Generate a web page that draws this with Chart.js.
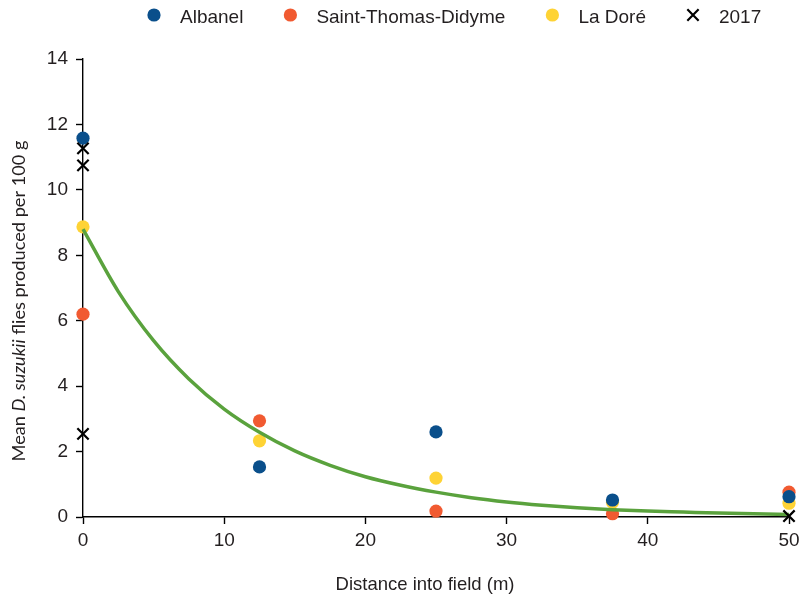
<!DOCTYPE html>
<html>
<head>
<meta charset="utf-8">
<script src="https://cdn.jsdelivr.net/npm/chart.js@4.4.1/dist/chart.umd.min.js"></script>
<style>
  html, body { margin: 0; padding: 0; background: #fff; }
</style>
</head>
<body>
<canvas id="myChart" width="800" height="599"></canvas>
<script>
// sampling distances (m)
const distances = [0, 12.5, 25, 37.5, 50];

// mean flies per 100 g, per site
const albanel = [11.58, 1.53, 2.6, 0.52, 0.62];
const saintThomas = [6.2, 2.94, 0.18, 0.1, 0.76];
const laDore = [8.87, 2.33, 1.19, 0.45, 0.42];

// 2017 points
const x2017 = [0, 0, 0, 50];
const y2017 = [11.27, 10.75, 2.54, 0.03];

// fitted curve
const curveX = [0, 2.5, 5, 7.5, 10, 12.5, 15, 17.5, 20, 22.5, 25, 27.5, 30, 32.5, 35, 37.5, 40, 42.5, 45, 47.5, 50];
const curveY = [8.8, 6.89, 5.39, 4.22, 3.3, 2.59, 2.02, 1.58, 1.23, 0.97, 0.76, 0.59, 0.46, 0.36, 0.28, 0.22, 0.18, 0.15, 0.12, 0.1, 0.08];

const xTicks = [0, 10, 20, 30, 40, 50];
const yTicks = [0, 2, 4, 6, 8, 10, 12, 14];

const BLUE = '#0a4f8b';
const RED = '#f15a31';
const YELLOW = '#fed335';
const GREEN = '#5aa23d';
const TEXT = '#231f20';
const ARIAL = '"Liberation Sans", Arial, sans-serif';

const pts = function (xs, ys) {
  return xs.map((x, i) => ({ x: x, y: ys[i] }));
};

const siteSet = function (label, values, color, order) {
  return {
    label: label,
    data: pts(distances, values),
    backgroundColor: color,
    borderColor: color,
    pointRadius: 6.6,
    pointBorderWidth: 0,
    pointHoverRadius: 6.6,
    clip: false,
    order: order,
  };
};

// draws the legend row and both axis titles
const extras = {
  id: 'extras',
  afterDraw(chart) {
    const ctx = chart.ctx;
    ctx.save();

    // legend
    ctx.font = '19px ' + ARIAL;
    ctx.textBaseline = 'alphabetic';
    ctx.textAlign = 'left';
    let x = 154;
    chart.data.datasets.slice(0, 4).forEach((ds) => {
      ctx.fillStyle = ds.backgroundColor;
      ctx.strokeStyle = ds.borderColor;
      ctx.lineWidth = ds.pointBorderWidth;
      Chart.helpers.drawPoint(ctx, {
        pointStyle: ds.pointStyle || 'circle',
        radius: ds.pointRadius,
        borderWidth: ds.pointBorderWidth,
        rotation: 0,
      }, x, 15);
      ctx.fillStyle = TEXT;
      ctx.fillText(ds.label, x + 26, 23);
      x += 26 + ctx.measureText(ds.label).width + 47;
    });

    // x title
    ctx.font = '18.5px ' + ARIAL;
    ctx.textAlign = 'center';
    ctx.fillStyle = TEXT;
    ctx.fillText('Distance into field (m)', 425, 590);

    // y title, with italic species name
    const parts = [
      ['Mean ', 'normal'],
      ['D. suzukii', 'italic'],
      [' flies produced per 100 g', 'normal'],
    ];
    const size = 18.2;
    let total = 0;
    parts.forEach((p) => {
      ctx.font = p[1] + ' ' + size + 'px Lato, "Noto Sans", sans-serif';
      total += ctx.measureText(p[0]).width;
    });
    ctx.translate(25, 301);
    ctx.rotate(-Math.PI / 2);
    ctx.textAlign = 'left';
    let cx = -total / 2;
    parts.forEach((p) => {
      ctx.font = p[1] + ' ' + size + 'px Lato, "Noto Sans", sans-serif';
      ctx.fillText(p[0], cx, 0);
      cx += ctx.measureText(p[0]).width;
    });

    ctx.restore();
  },
};

const axisOpts = function (min, max, step, ticks) {
  return {
    type: 'linear',
    min: min,
    max: max,
    afterBuildTicks(scale) {
      scale.ticks = ticks.map((v) => ({ value: v }));
    },
    ticks: {
      stepSize: step,
      color: TEXT,
      font: { family: ARIAL, size: 19 },
      padding: 8,
    },
    grid: {
      drawOnChartArea: false,
      drawTicks: true,
      tickLength: 7,
      tickColor: '#000',
      tickWidth: 1.4,
    },
    border: { color: '#000', width: 1.4 },
  };
};

const init = function () {
  const ctx = document.getElementById('myChart').getContext('2d');

  const xAxis = axisOpts(0, 50, 10, xTicks);
  xAxis.ticks.padding = 5;
  xAxis.afterFit = function (scale) {
    scale.height = 82;
    scale.paddingRight = 11;
  };
  const yAxis = axisOpts(0, 14, 2, yTicks);
  yAxis.afterFit = function (scale) { scale.width = 83; };

  new Chart(ctx, {
    type: 'scatter',
    data: {
      datasets: [
        siteSet('Albanel', albanel, BLUE, 2),
        siteSet('Saint-Thomas-Didyme', saintThomas, RED, 4),
        siteSet('La Doré', laDore, YELLOW, 3),
        {
          label: '2017',
          data: pts(x2017, y2017),
          pointStyle: 'crossRot',
          pointRadius: 8,
          pointHoverRadius: 8,
          pointBorderWidth: 2.2,
          borderColor: '#000',
          backgroundColor: '#000',
          clip: false,
          order: 0,
        },
        {
          label: 'fit',
          data: pts(curveX, curveY),
          showLine: true,
          borderColor: GREEN,
          backgroundColor: GREEN,
          borderWidth: 3.5,
          pointRadius: 0,
          pointHoverRadius: 0,
          cubicInterpolationMode: 'monotone',
          clip: false,
          order: 1,
        },
      ],
    },
    options: {
      responsive: false,
      animation: false,
      layout: { padding: { top: 59, left: 0, right: 0, bottom: 0 } },
      plugins: {
        legend: { display: false },
        tooltip: { enabled: false },
      },
      scales: { x: xAxis, y: yAxis },
    },
    plugins: [extras],
  });
};

document.addEventListener('DOMContentLoaded', init);
</script>
</body>
</html>
